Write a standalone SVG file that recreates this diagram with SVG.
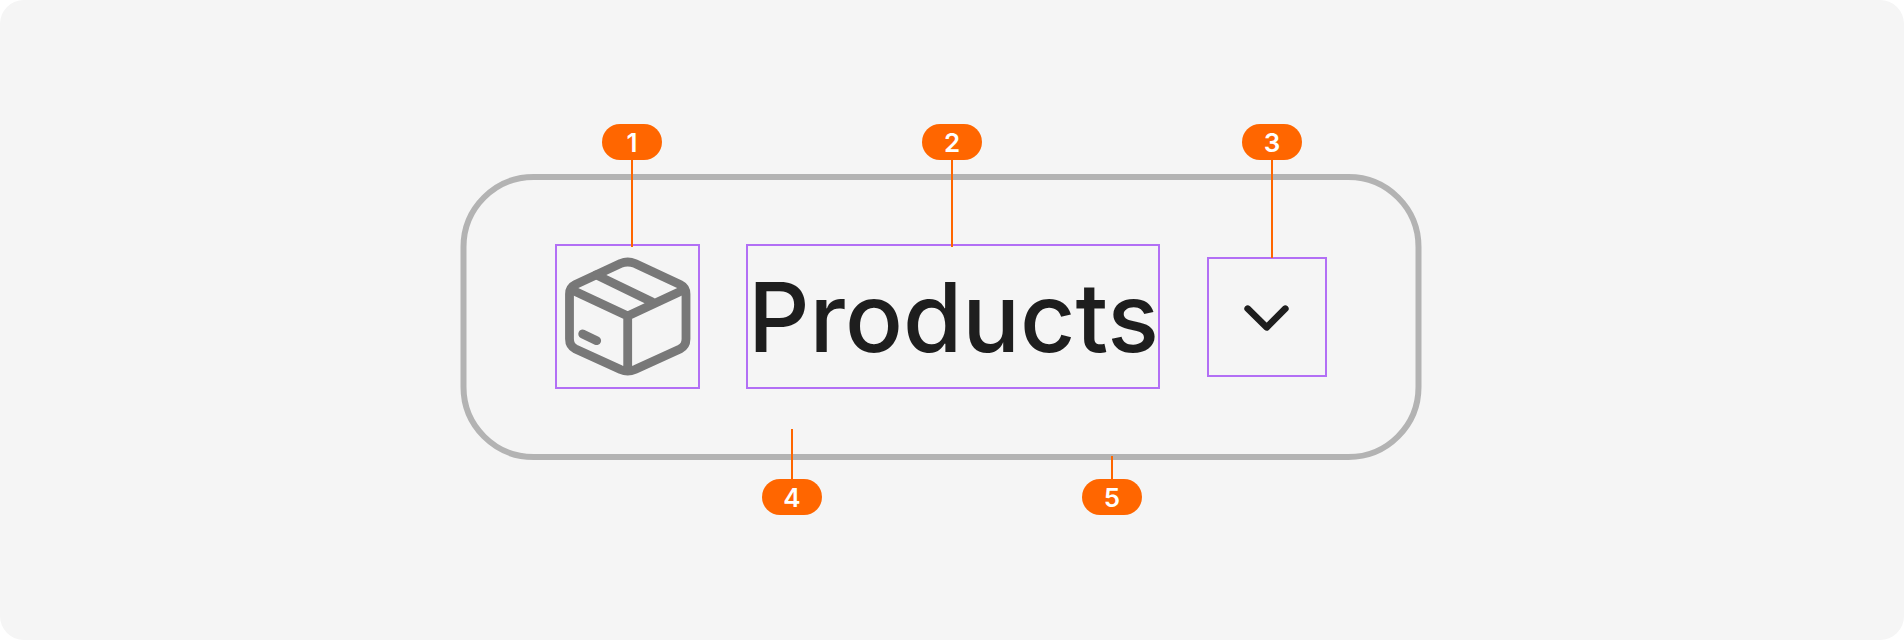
<svg xmlns="http://www.w3.org/2000/svg" width="1904" height="640" viewBox="0 0 1904 640">
<style>
.frame{fill:none;stroke:#b3b3b3;stroke-width:6}
.box{fill:none;stroke:#b26ff5;stroke-width:2}
.icon{fill:none;stroke:#787878;stroke-width:8.800;stroke-linecap:round;stroke-linejoin:round}
.chev{fill:none;stroke:#1e1e1e;stroke-width:6.700;stroke-linecap:round;stroke-linejoin:round}
.pill{fill:#ff6600}
.num{fill:#fff;font-family:Inter,"Liberation Sans",sans-serif;font-size:26px;font-weight:600;text-anchor:middle}
.conn{stroke:#ff6600;stroke-width:2;fill:none}
.label{fill:#1e1e1e;font-family:Inter,"Liberation Sans",sans-serif;font-size:96px;font-weight:500}
</style>
<rect id="background" width="1904" height="640" rx="24" fill="#f5f5f5"/>
<g id="frame"><rect class="frame" x="463.500" y="177" width="955" height="280" rx="70"/></g>
<g id="icon-node">
<rect class="box" x="556" y="245" width="143" height="143"/>
<path class="icon" d="M620.500 263.500Q627.700 260.500 635 263.500L680 284.500Q686 287.500 686 294L686 339Q686 346 680 349L635 369.500Q627.700 372.500 620.500 369.500L575.500 349Q569.500 346 569.500 339L569.500 294Q569.500 287.500 575.500 284.500Z"/>
<path class="icon" d="M571 289.500L627.700 316L684.500 289.500M627.700 316L627.700 369M596.200 274.900L651.700 301.700M582.700 334L596.700 340.700"/>
</g>
<g id="label-node">
<rect class="box" x="747" y="245" width="412" height="143"/>
<text class="label" x="748" y="351.500">Products</text>
</g>
<g id="chevron-node">
<rect class="box" x="1208" y="258" width="118" height="118"/>
<path class="chev" d="M1247.700 308.700L1266.700 327.300L1285.300 308.700"/>
</g>
<g id="connectors">
<path class="conn" d="M632 160V247"/>
<path class="conn" d="M952 160V247"/>
<path class="conn" d="M1272 160V258"/>
<path class="conn" d="M792 429V479"/>
<path class="conn" d="M1112 456V479"/>
</g>
<g id="badge-1"><rect class="pill" x="602" y="124" width="60" height="36" rx="18"/><text class="num" x="632" y="151.500">1</text></g>
<g id="badge-2"><rect class="pill" x="922" y="124" width="60" height="36" rx="18"/><text class="num" x="952" y="151.500">2</text></g>
<g id="badge-3"><rect class="pill" x="1242" y="124" width="60" height="36" rx="18"/><text class="num" x="1272" y="151.500">3</text></g>
<g id="badge-4"><rect class="pill" x="762" y="479" width="60" height="36" rx="18"/><text class="num" x="792" y="507">4</text></g>
<g id="badge-5"><rect class="pill" x="1082" y="479" width="60" height="36" rx="18"/><text class="num" x="1112" y="507">5</text></g>
</svg>
